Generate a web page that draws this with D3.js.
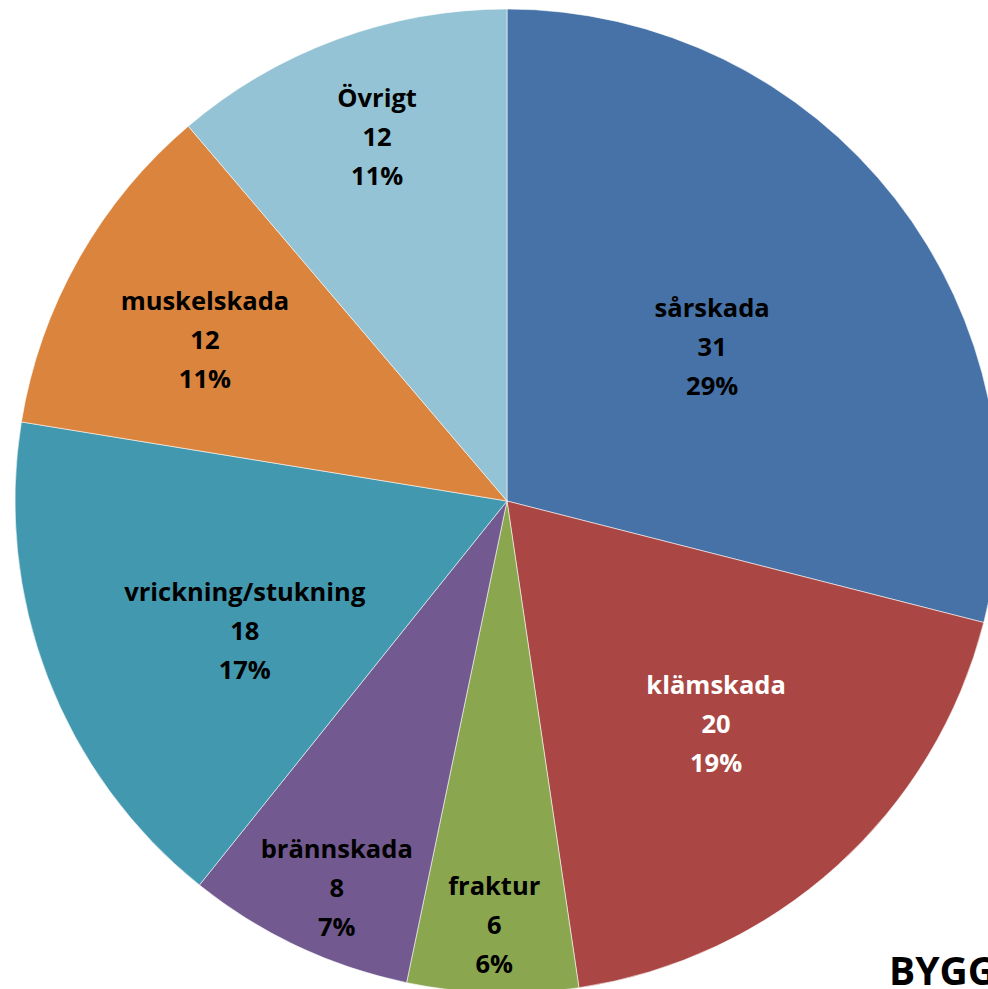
<!DOCTYPE html>
<html>
<head>
<meta charset="utf-8">
<script src="https://cdn.jsdelivr.net/npm/d3@7"></script>
<style>
body { margin: 0; background: #fff; overflow: hidden; }
svg { display: block; }
</style>
</head>
<body>
<div id="chart"></div>
<script>
const categories = ["sårskada", "klämskada", "fraktur", "brännskada", "vrickning/stukning", "muskelskada", "Övrigt"];
const values = [31, 20, 6, 8, 18, 12, 12];
const percents = ["29%", "19%", "6%", "7%", "17%", "11%", "11%"];
const colors = ["#4672A8", "#AA4744", "#8AA64F", "#72598F", "#4298AF", "#DB843D", "#93C3D4"];
const textColors = ["#000", "#fff", "#000", "#000", "#000", "#000", "#000"];
// Excel "best fit" label anchors, as fractions of the radius from the centre
const labelAnchor = [[0.417, -0.313], [0.425, 0.453], [-0.026, 0.862], [-0.346, 0.787],
	[-0.533, 0.264], [-0.614, -0.327], [-0.264, -0.740]];

const width = 988, height = 989;
const cx = 507, cy = 501, r = 492;

let svg = d3.select("#chart").append("svg")
	.attr("width", width)
	.attr("height", height)
	.style("font-family", "'Open Sans', Lato, sans-serif")
	.style("font-weight", "bold");

let pie = d3.pie().sort(null).value(d => d.v);
let arcs = pie(categories.map((c, i) => ({c, v: values[i], p: percents[i], i})));
let arc = d3.arc().innerRadius(0).outerRadius(r);

let g = svg.append("g").attr("transform", `translate(${cx},${cy})`);

g.selectAll("path")
	.data(arcs)
	.join("path")
	.attr("d", arc)
	.attr("fill", d => colors[d.data.i])
	.attr("stroke", "#fff")
	.attr("stroke-width", 0.8)
	.attr("stroke-opacity", 0.7);

g.selectAll("text.lbl")
	.data(arcs)
	.join("text")
	.attr("class", "lbl")
	.attr("text-anchor", "middle")
	.attr("font-size", 25.5)
	.attr("fill", d => textColors[d.data.i])
	.attr("transform", d => {
		let [fx, fy] = labelAnchor[d.data.i];
		return `translate(${fx * r},${fy * r})`;
	})
	.each(function(d) {
		let t = d3.select(this);
		[d.data.c, d.data.v, d.data.p].forEach((s, k) => {
			t.append("tspan")
				.attr("x", 0)
				.attr("y", (k - 1) * 39)
				.attr("dy", "0.36em")
				.text(s);
		});
	});

svg.append("text")
	.attr("x", 889)
	.attr("y", 985)
	.attr("font-size", 39)
	.attr("fill", "#000")
	.text("BYGG");
</script>
</body>
</html>
